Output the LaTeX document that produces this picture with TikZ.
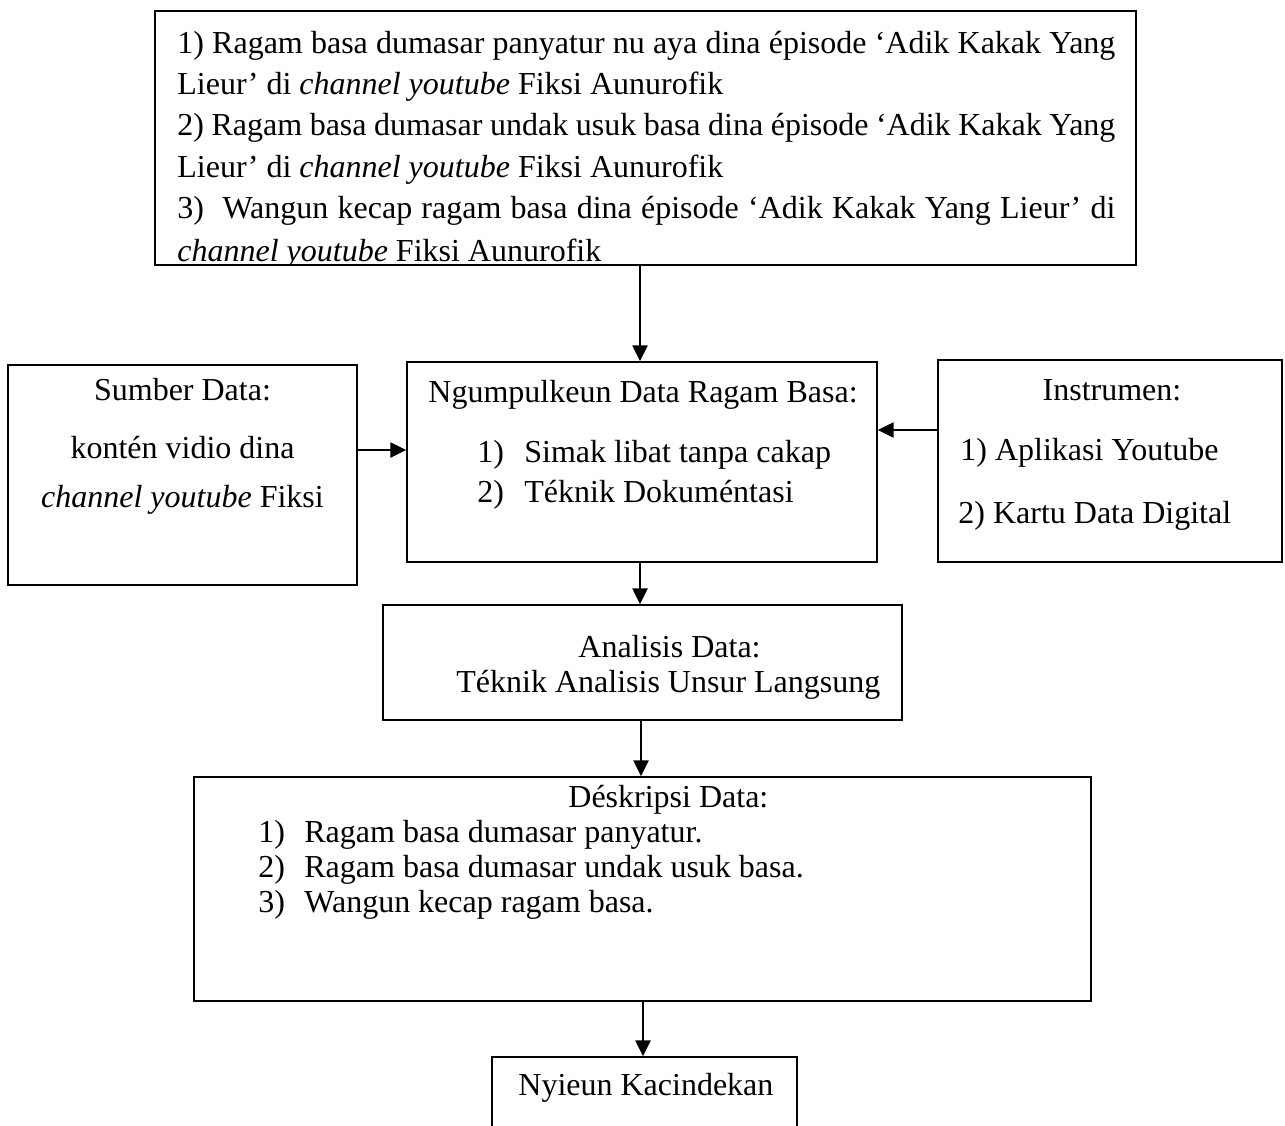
\documentclass[tikz,border=0pt]{standalone}
\usepackage{fontspec}
\setmainfont{Liberation Serif}
\usetikzlibrary{arrows.meta,calc}
\tikzset{
  box/.style={draw=black, line width=0.7pt, rectangle, inner sep=0pt},
  txt/.style={inner sep=0pt, anchor=base west, font=\fontsize{16pt}{19pt}\selectfont},
  ctxt/.style={inner sep=0pt, anchor=base, font=\fontsize{16pt}{19pt}\selectfont},
  arr/.style={line width=1.2pt, -{Triangle[width=7.5pt,length=8pt]}}
}
\begin{document}
\begin{tikzpicture}[x=0.5pt,y=-0.5pt]
\useasboundingbox (0,0) rectangle (1285,1125);
\clip (0,0) rectangle (1285,1125);
\fill[white] (0,0) rectangle (1285,1125);

% boxes
\node[box, minimum width=490.5pt, minimum height=127pt] (top) at (645.5,138) {};
\node[box, minimum width=174.5pt, minimum height=110pt] (src) at (182.5,475) {};
\node[box, minimum width=235pt, minimum height=100pt] (mid) at (642,462) {};
\node[box, minimum width=172pt, minimum height=101pt] (ins) at (1110,461) {};
\node[box, minimum width=259.5pt, minimum height=57.5pt] (ana) at (642.5,662.5) {};
\node[box, minimum width=448.5pt, minimum height=112pt] (des) at (642.5,889) {};
\node[box, minimum width=152.5pt, minimum height=50pt] (kac) at (644.5,1107) {};

% top box text (last line clipped by the box)
\begin{scope}
\clip (top.north west) rectangle (top.south east);
\node[txt] (t1) at (177,53) {\makebox[469pt][s]{1) Ragam basa dumasar panyatur nu aya dina épisode ‘Adik Kakak Yang}};
\node[txt] (t2) at (177,94.4) {Lieur’ di \textit{channel youtube} Fiksi Aunurofik};
\node[txt] (t3) at (177,135.8) {\makebox[469pt][s]{2) Ragam basa dumasar undak usuk basa dina épisode ‘Adik Kakak Yang}};
\node[txt] (t4) at (177,177.2) {Lieur’ di \textit{channel youtube} Fiksi Aunurofik};
\node[txt] (t5) at (177,218.6) {\makebox[469pt][s]{3)\ \ Wangun kecap ragam basa dina épisode ‘Adik Kakak Yang Lieur’ di}};
\node[txt] (t6) at (177,261) {\textit{channel youtube} Fiksi Aunurofik};
\end{scope}

% sumber data
\node[ctxt] (s1) at (182.5,400) {Sumber Data:};
\node[ctxt] (s2) at (182.5,458) {kontén vidio dina};
\node[ctxt] (s3) at (182.5,507) {\textit{channel youtube} Fiksi};

% ngumpulkeun
\node[txt] (m1) at (428,402) {Ngumpulkeun Data Ragam Basa:};
\node[txt] (m2) at (477,462) {\makebox[23.5pt][l]{1)}Simak libat tanpa cakap};
\node[txt] (m3) at (477,502) {\makebox[23.5pt][l]{2)}Téknik Dokuméntasi};

% instrumen
\node[ctxt] (i1) at (1112,400) {Instrumen:};
\node[txt] (i2) at (960,460) {1) Aplikasi Youtube};
\node[txt] (i3) at (958,523) {2) Kartu Data Digital};

% analisis
\node[txt] (a1) at (578,657) {Analisis Data:};
\node[txt] (a2) at (456,692) {Téknik Analisis Unsur Langsung};

% deskripsi
\node[txt] (d1) at (568,807) {Déskripsi Data:};
\node[txt] (d2) at (258,842) {\makebox[23pt][l]{1)}Ragam basa dumasar panyatur.};
\node[txt] (d3) at (258,877) {\makebox[23pt][l]{2)}Ragam basa dumasar undak usuk basa.};
\node[txt] (d4) at (258,912) {\makebox[23pt][l]{3)}Wangun kecap ragam basa.};

% kacindekan
\node[txt] (k1) at (518,1095) {Nyieun Kacindekan};

% connector guide coordinates
\coordinate (xa) at (640,0);
\coordinate (xb) at (641,0);
\coordinate (xc) at (643,0);
\coordinate (ya) at (0,450);
\coordinate (yb) at (0,430);

% connectors
\draw[arr] (top.south -| xa) -- (mid.north -| xa);
\draw[arr] (src.east |- ya) -- (mid.west |- ya);
\draw[arr] (ins.west |- yb) -- (mid.east |- yb);
\draw[arr] (mid.south -| xa) -- (ana.north -| xa);
\draw[arr] (ana.south -| xb) -- (des.north -| xb);
\draw[arr] (des.south -| xc) -- (kac.north -| xc);
\end{tikzpicture}
\end{document}
